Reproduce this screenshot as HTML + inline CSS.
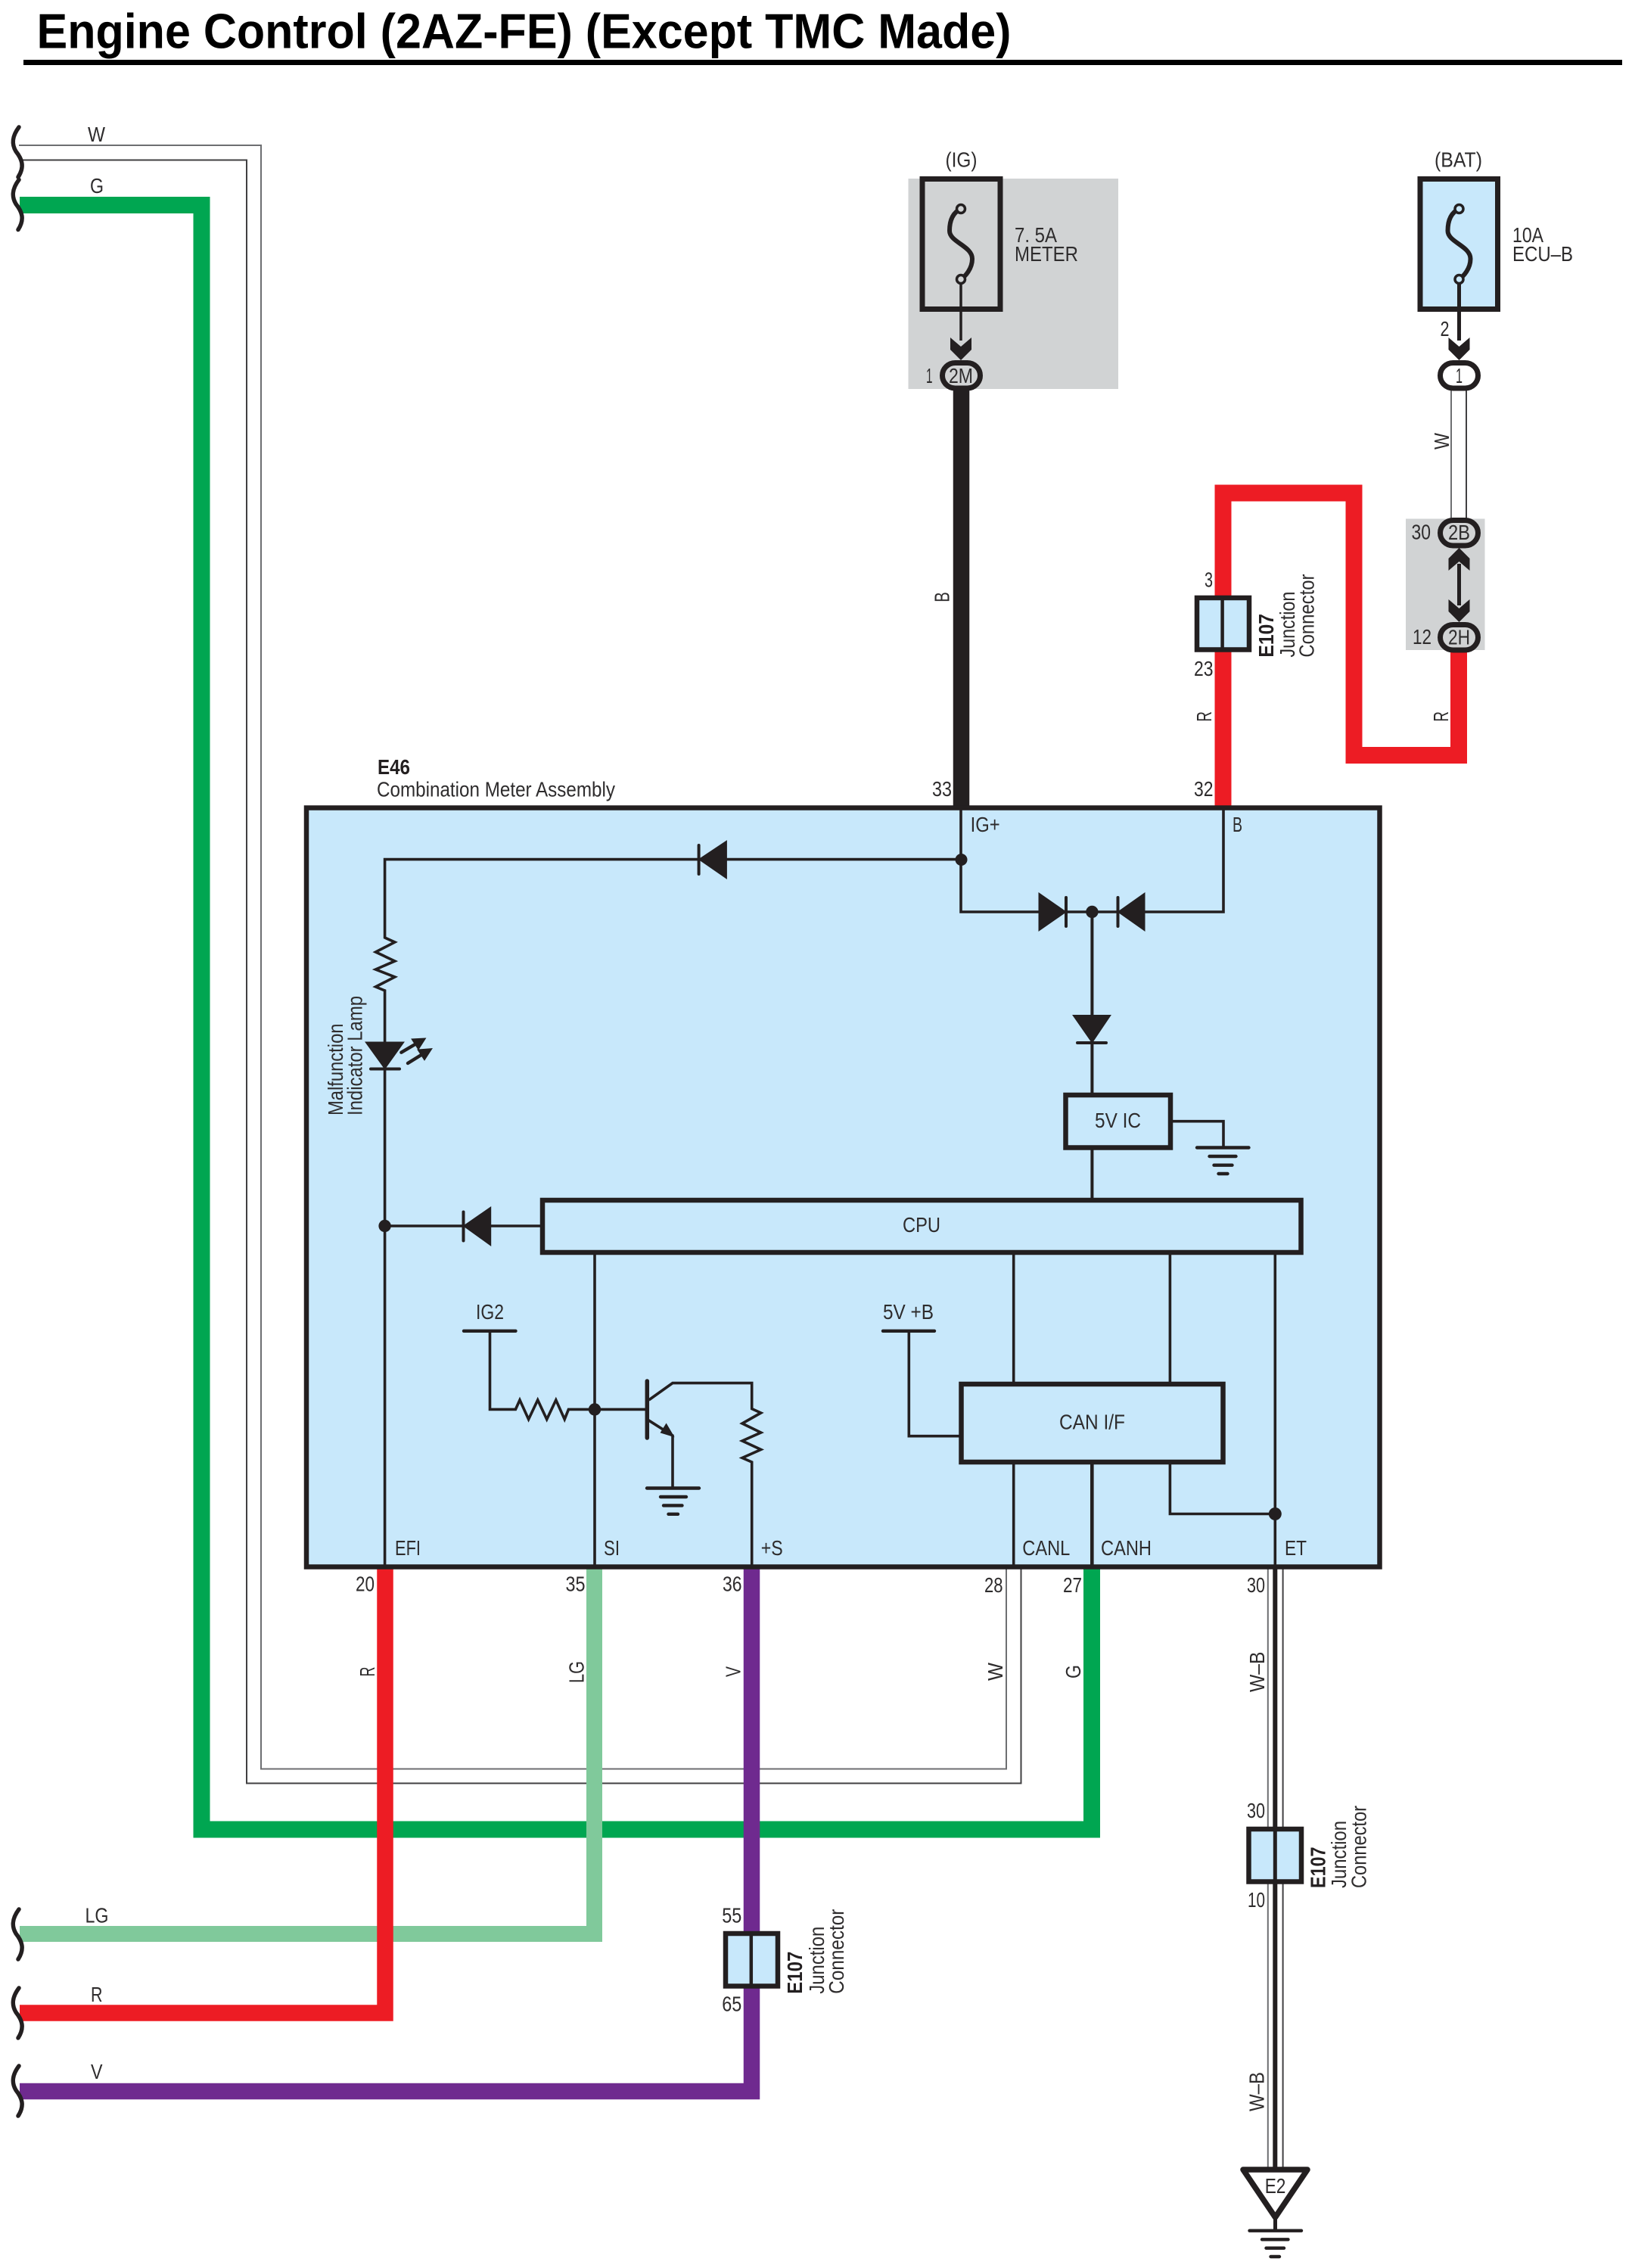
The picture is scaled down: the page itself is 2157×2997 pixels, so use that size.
<!DOCTYPE html>
<html><head><meta charset="utf-8"><title>Engine Control (2AZ-FE) (Except TMC Made)</title>
<style>
html,body{margin:0;padding:0;background:#fff}
svg{display:block}
text{font-family:"Liberation Sans",sans-serif;font-size:27.5px;fill:#2e2c2d}
.b{font-weight:bold;fill:#231f20}
.t{font-weight:bold;font-size:65px;fill:#000}
.k{fill:none;stroke:#231f20;stroke-width:3.6}
.box{fill:#c8e8fb;stroke:#231f20;stroke-width:6.5}
.w{fill:none;stroke-linejoin:miter}
</style></head><body>
<svg xmlns="http://www.w3.org/2000/svg" width="2157" height="2997" viewBox="0 0 2157 2997">
<defs>
<path id="wv" d="M25 0C16 12 15 22 21 32C29 42 33 52 24 66" fill="none" stroke="#231f20" stroke-width="5.5" stroke-linecap="round"/>
<path id="fu" d="M0 0C-13 6-15 19-15 29C-15 44 15 49 15 66C15 79 6 89 0 93" fill="none" stroke="#231f20" stroke-width="6"/>
<path id="ch" d="M-14 0L0 12L14 0V16L0 30L-14 16Z" fill="#231f20"/>
</defs>
<rect width="2157" height="2997" fill="#fff"/>

<text class="t" x="48.5" y="63.5" textLength="1288" lengthAdjust="spacingAndGlyphs">Engine Control (2AZ-FE) (Except TMC Made)</text>
<rect x="31" y="79" width="2113" height="7" fill="#000"/>

<!-- grey zones -->
<rect x="1200.5" y="236" width="277.5" height="278" fill="#d1d3d4"/>
<rect x="1858" y="685.5" width="104.5" height="173.5" fill="#d1d3d4"/>

<!-- W wires -->
<path class="w" stroke="#6d6e71" stroke-width="2" d="M25 192H345V2337.5H1330V2070"/>
<path class="w" stroke="#414042" stroke-width="2" d="M25 211.5H326V2356.5H1349.5V2070"/>
<path class="w" stroke="#6d6e71" stroke-width="2" d="M1918 516V685"/>
<path class="w" stroke="#414042" stroke-width="2" d="M1938 516V685"/>
<path class="w" stroke="#6d6e71" stroke-width="2" d="M1675.8 2070V2864"/>
<path class="w" stroke="#414042" stroke-width="2" d="M1695.6 2070V2864"/>

<!-- colour wires -->
<path class="w" stroke="#00a651" stroke-width="22" d="M26 271H266.5V2417.5H1443V2072"/>
<path class="w" stroke="#80c99b" stroke-width="21" d="M26 2555.5H785.5V2072"/>
<path class="w" stroke="#ed1c24" stroke-width="21.5" d="M26 2660H509V2072"/>
<path class="w" stroke="#6f2a8f" stroke-width="21.5" d="M26 2763.5H993.5V2072"/>
<path class="w" stroke="#ed1c24" stroke-width="22" d="M1616.5 1066V651.5H1789.5V998H1928V860"/>
<path class="w" stroke="#231f20" stroke-width="21.5" d="M1270.5 512V1066"/>
<path class="w" stroke="#231f20" stroke-width="6" d="M1685.3 2070V2866"/>

<!-- waves -->
<use href="#wv" x="0" y="168"/><use href="#wv" x="0" y="237.5"/>
<use href="#wv" x="0" y="2523"/><use href="#wv" x="0" y="2627"/><use href="#wv" x="0" y="2730"/>

<!-- main box -->
<rect class="box" x="405" y="1067.5" width="1418.5" height="1003"/>

<!-- fuses -->
<rect x="1219" y="236.5" width="103" height="172" fill="#d1d3d4" stroke="#231f20" stroke-width="7"/>
<rect x="1877" y="236.5" width="102.5" height="172" fill="#c8e8fb" stroke="#231f20" stroke-width="7"/>
<use href="#fu" x="1270" y="276"/><use href="#fu" x="1928.5" y="276"/>
<circle cx="1270" cy="276" r="5.5" fill="#d1d3d4" stroke="#231f20" stroke-width="3.5"/>
<circle cx="1270" cy="369" r="5.5" fill="#d1d3d4" stroke="#231f20" stroke-width="3.5"/>
<circle cx="1928.5" cy="276" r="5.5" fill="#c8e8fb" stroke="#231f20" stroke-width="3.5"/>
<circle cx="1928.5" cy="369" r="5.5" fill="#c8e8fb" stroke="#231f20" stroke-width="3.5"/>
<path d="M1270 375V450" stroke="#231f20" stroke-width="3.5"/>
<path d="M1928.5 375V450" stroke="#231f20" stroke-width="5"/>
<use href="#ch" x="1270" y="446"/><use href="#ch" x="1928.5" y="446"/>
<path d="M1928.5 745V800" stroke="#231f20" stroke-width="5"/>
<g transform="translate(1928.5,754) scale(1,-1)"><use href="#ch" x="0" y="0"/></g>
<use href="#ch" x="1928.5" y="792"/>

<!-- ovals -->
<rect x="1245.5" y="479.5" width="50" height="33.5" rx="17" fill="#d1d3d4" stroke="#231f20" stroke-width="7"/>
<rect x="1903.5" y="479.5" width="50" height="33.5" rx="17" fill="#fff" stroke="#231f20" stroke-width="7"/>
<rect x="1903.5" y="687.5" width="50" height="33.5" rx="17" fill="#d1d3d4" stroke="#231f20" stroke-width="7"/>
<rect x="1903.5" y="825.5" width="50" height="33.5" rx="17" fill="#d1d3d4" stroke="#231f20" stroke-width="7"/>

<!-- junction connectors -->
<rect class="box" x="1582" y="790" width="69" height="68.5"/>
<path d="M1615.6 790V858" stroke="#231f20" stroke-width="4.5"/>
<rect class="box" x="959" y="2555" width="69" height="69.5"/>
<path d="M992.8 2555V2624" stroke="#231f20" stroke-width="4.5"/>
<rect class="box" x="1650.5" y="2417" width="69.5" height="69.5"/>
<path d="M1685.3 2417V2487" stroke="#231f20" stroke-width="5"/>

<!-- internal wiring -->
<path class="k" d="M1270 1070V1205H1373M1409 1205H1477M1513 1205H1617V1070"/>
<path class="k" d="M1270 1135.6H508.6V1239L521.8 1245L496.5 1258L521.8 1270L496.5 1281L521.8 1291L496.5 1304L508.6 1309V2070"/>
<path class="k" d="M508.6 1620H717"/>
<path class="k" style="stroke-width:4" d="M1443.4 1205V1444M1443.4 1516V1586"/>
<path class="k" d="M1550 1481.7H1617V1516"/>
<path class="k" d="M786 1655V2070"/>
<path class="k" d="M647.5 1759V1862.4H681.4L687 1850L698.6 1875.5L710.7 1850L722.7 1875.5L734.8 1850L746.2 1875.5L751.4 1862.4H854"/>
<path class="k" d="M857.6 1850L889 1827.6H993.7V1861.6L1005.7 1867L981 1881L1005.7 1893L981 1904L1005.7 1915.5L981 1926.5L993.7 1932V2070"/>
<path class="k" d="M857 1876.7L889 1897V1966.5"/>
<path d="M880.6 1882L890 1898L873.7 1893Z" fill="#231f20" stroke="#231f20" stroke-width="1.5"/>
<path d="M855.3 1825V1900" stroke="#231f20" stroke-width="5.5" stroke-linecap="round"/>
<path class="k" d="M1339.7 1655V1826M1546.4 1655V1826M1685.3 1655V2070"/>
<path class="k" d="M1201.3 1759V1897.7H1270"/>
<path class="k" d="M1339.7 1932V2070"/>
<path class="k" style="stroke-width:4.6" d="M1443.3 1932V2070"/>
<path class="k" d="M1546.4 1932V2000.5H1685.3"/>

<!-- diodes -->
<g fill="#231f20" stroke="#231f20" stroke-linecap="round">
<path stroke-width="1" d="M923.6 1135.6L960.4 1111V1161Z"/><path stroke-width="4" d="M923.6 1117V1155"/>
<path stroke-width="1" d="M612.5 1620L648.7 1595V1646Z"/><path stroke-width="4" d="M612.5 1601.5V1639.5"/>
<path stroke-width="1" d="M1409 1205L1373 1180V1230Z"/><path stroke-width="4" d="M1409 1186V1224"/>
<path stroke-width="1" d="M1477.5 1205L1513 1180V1230Z"/><path stroke-width="4" d="M1477.5 1186V1224"/>
<path stroke-width="1" d="M1418 1341.5H1468L1443.4 1378Z"/><path stroke-width="4" d="M1424 1378H1462"/>
<path stroke-width="1" d="M483 1377H534L508.6 1412.5Z"/><path stroke-width="4" d="M490 1412.5H528"/>
<path stroke-width="4.4" fill="none" d="M530.4 1390.7L552 1378M539 1405L560 1392"/>
<path stroke-width="1" d="M562.5 1372L544 1373L553 1387Z"/>
<path stroke-width="1" d="M571 1385.6L552 1387L561 1401Z"/>
</g>

<!-- nodes -->
<circle cx="1270.5" cy="1136" r="8" fill="#231f20"/>
<circle cx="1443.4" cy="1205" r="8.2" fill="#231f20"/>
<circle cx="508.6" cy="1620" r="8.2" fill="#231f20"/>
<circle cx="786" cy="1862.5" r="8.2" fill="#231f20"/>
<circle cx="1685.3" cy="2000.5" r="8.5" fill="#231f20"/>

<!-- inner boxes -->
<rect class="box" x="1408.5" y="1447" width="138.5" height="69.5"/>
<rect class="box" x="717" y="1586" width="1002.5" height="69"/>
<rect class="box" x="1270.5" y="1829" width="346" height="103"/>

<!-- source bars -->
<g stroke="#231f20" stroke-width="4.4" stroke-linecap="round">
<path d="M613 1758.8H681.5M1167 1758.8H1235"/>
<path d="M1582 1516.5H1650.5M1598.5 1528H1633.5M1604.5 1539.7H1628.5M1610.5 1551H1622.5"/>
<path d="M855 1966.5H924M873 1978H907M877 1989.4H901.5M883.5 2000.8H896"/>
<path d="M1651.5 2947.7H1720M1668 2959.3H1702.5M1673.5 2970.7H1697M1679.5 2982H1691"/>
</g>

<!-- ground triangle -->
<path d="M1643 2867H1728L1685.5 2930Z" fill="#fff" stroke="#231f20" stroke-width="7.5" stroke-linejoin="round"/>
<path d="M1685.5 2930V2948" stroke="#231f20" stroke-width="5"/>

<!-- horizontal labels -->
<text x="116" y="187" textLength="23" lengthAdjust="spacingAndGlyphs">W</text>
<text x="119" y="255" textLength="18" lengthAdjust="spacingAndGlyphs">G</text>
<text x="112.5" y="2540.6" textLength="31" lengthAdjust="spacingAndGlyphs">LG</text>
<text x="120" y="2644.8" textLength="15.5" lengthAdjust="spacingAndGlyphs">R</text>
<text x="120" y="2747" textLength="15.5" lengthAdjust="spacingAndGlyphs">V</text>
<text x="1249.5" y="220.5" textLength="42" lengthAdjust="spacingAndGlyphs">(IG)</text>
<text x="1896" y="220.5" textLength="63" lengthAdjust="spacingAndGlyphs">(BAT)</text>
<text x="1341" y="320" textLength="56" lengthAdjust="spacingAndGlyphs">7. 5A</text>
<text x="1341" y="345" textLength="84" lengthAdjust="spacingAndGlyphs">METER</text>
<text x="1999" y="320" textLength="41" lengthAdjust="spacingAndGlyphs">10A</text>
<text x="1999" y="345" textLength="80" lengthAdjust="spacingAndGlyphs">ECU–B</text>
<text x="1254" y="506" textLength="32" lengthAdjust="spacingAndGlyphs">2M</text>
<text x="1224" y="506" textLength="8.5" lengthAdjust="spacingAndGlyphs">1</text>
<text x="1903.5" y="444" textLength="12" lengthAdjust="spacingAndGlyphs">2</text>
<text x="1924" y="506" textLength="9" lengthAdjust="spacingAndGlyphs">1</text>
<text x="1914" y="713" textLength="29" lengthAdjust="spacingAndGlyphs">2B</text>
<text x="1865.5" y="712.5" textLength="25.5" lengthAdjust="spacingAndGlyphs">30</text>
<text x="1914" y="851.4" textLength="29" lengthAdjust="spacingAndGlyphs">2H</text>
<text x="1867" y="851" textLength="25" lengthAdjust="spacingAndGlyphs">12</text>
<text x="1592" y="775.6" textLength="11" lengthAdjust="spacingAndGlyphs">3</text>
<text x="1578" y="893" textLength="25.5" lengthAdjust="spacingAndGlyphs">23</text>
<text x="1578" y="1052" textLength="25.5" lengthAdjust="spacingAndGlyphs">32</text>
<text x="1232" y="1052" textLength="26" lengthAdjust="spacingAndGlyphs">33</text>
<text class="b" x="499" y="1023" textLength="43" lengthAdjust="spacingAndGlyphs">E46</text>
<text x="498" y="1052.4" textLength="315" lengthAdjust="spacingAndGlyphs">Combination Meter Assembly</text>
<text x="1282.6" y="1099" textLength="39" lengthAdjust="spacingAndGlyphs">IG+</text>
<text x="1629" y="1099" textLength="13" lengthAdjust="spacingAndGlyphs">B</text>
<text x="1447" y="1490" textLength="61" lengthAdjust="spacingAndGlyphs">5V IC</text>
<text x="1193" y="1628" textLength="50" lengthAdjust="spacingAndGlyphs">CPU</text>
<text x="629" y="1743" textLength="37" lengthAdjust="spacingAndGlyphs">IG2</text>
<text x="1167" y="1743" textLength="67" lengthAdjust="spacingAndGlyphs">5V +B</text>
<text x="1400" y="1888.6" textLength="87" lengthAdjust="spacingAndGlyphs">CAN I/F</text>
<text x="522" y="2055" textLength="34" lengthAdjust="spacingAndGlyphs">EFI</text>
<text x="798" y="2055" textLength="21" lengthAdjust="spacingAndGlyphs">SI</text>
<text x="1005.7" y="2055" textLength="29" lengthAdjust="spacingAndGlyphs">+S</text>
<text x="1351.3" y="2055" textLength="63" lengthAdjust="spacingAndGlyphs">CANL</text>
<text x="1455" y="2055" textLength="67" lengthAdjust="spacingAndGlyphs">CANH</text>
<text x="1698" y="2055" textLength="29" lengthAdjust="spacingAndGlyphs">ET</text>
<text x="470" y="2102.5" textLength="25" lengthAdjust="spacingAndGlyphs">20</text>
<text x="747.5" y="2102.5" textLength="26" lengthAdjust="spacingAndGlyphs">35</text>
<text x="955" y="2102.5" textLength="25.5" lengthAdjust="spacingAndGlyphs">36</text>
<text x="1301" y="2104" textLength="24.5" lengthAdjust="spacingAndGlyphs">28</text>
<text x="1405" y="2104" textLength="25" lengthAdjust="spacingAndGlyphs">27</text>
<text x="1648" y="2104" textLength="24" lengthAdjust="spacingAndGlyphs">30</text>
<text x="1648" y="2402" textLength="24" lengthAdjust="spacingAndGlyphs">30</text>
<text x="1649" y="2520" textLength="23" lengthAdjust="spacingAndGlyphs">10</text>
<text x="954.3" y="2540.6" textLength="26" lengthAdjust="spacingAndGlyphs">55</text>
<text x="954.3" y="2657.5" textLength="26" lengthAdjust="spacingAndGlyphs">65</text>
<text x="1671.7" y="2898" textLength="27.7" lengthAdjust="spacingAndGlyphs">E2</text>

<!-- rotated labels -->
<text transform="translate(1915,594) rotate(-90)" textLength="22" lengthAdjust="spacingAndGlyphs">W</text>
<text transform="translate(1254.7,795.7) rotate(-90)" textLength="13.5" lengthAdjust="spacingAndGlyphs">B</text>
<text transform="translate(1601,953.6) rotate(-90)" textLength="13.5" lengthAdjust="spacingAndGlyphs">R</text>
<text transform="translate(1914,953.6) rotate(-90)" textLength="13.5" lengthAdjust="spacingAndGlyphs">R</text>
<text class="b" transform="translate(1683,868.6) rotate(-90)" textLength="57.6" lengthAdjust="spacingAndGlyphs">E107</text>
<text transform="translate(1711,868.6) rotate(-90)" textLength="87" lengthAdjust="spacingAndGlyphs">Junction</text>
<text transform="translate(1736.5,868.6) rotate(-90)" textLength="110" lengthAdjust="spacingAndGlyphs">Connector</text>
<text transform="translate(453,1474) rotate(-90)" textLength="121.5" lengthAdjust="spacingAndGlyphs">Malfunction</text>
<text transform="translate(478.7,1474) rotate(-90)" textLength="158" lengthAdjust="spacingAndGlyphs">Indicator Lamp</text>
<text transform="translate(495,2215.5) rotate(-90)" textLength="13" lengthAdjust="spacingAndGlyphs">R</text>
<text transform="translate(771.5,2224) rotate(-90)" textLength="29" lengthAdjust="spacingAndGlyphs">LG</text>
<text transform="translate(978.7,2216) rotate(-90)" textLength="14" lengthAdjust="spacingAndGlyphs">V</text>
<text transform="translate(1325,2221) rotate(-90)" textLength="24" lengthAdjust="spacingAndGlyphs">W</text>
<text transform="translate(1428,2218) rotate(-90)" textLength="18" lengthAdjust="spacingAndGlyphs">G</text>
<text transform="translate(1671,2236) rotate(-90)" textLength="53.5" lengthAdjust="spacingAndGlyphs">W–B</text>
<text class="b" transform="translate(1751.3,2495) rotate(-90)" textLength="54.5" lengthAdjust="spacingAndGlyphs">E107</text>
<text transform="translate(1779,2495) rotate(-90)" textLength="89" lengthAdjust="spacingAndGlyphs">Junction</text>
<text transform="translate(1805.4,2495) rotate(-90)" textLength="109" lengthAdjust="spacingAndGlyphs">Connector</text>
<text transform="translate(1670.7,2790) rotate(-90)" textLength="52" lengthAdjust="spacingAndGlyphs">W–B</text>
<text class="b" transform="translate(1060,2634.7) rotate(-90)" textLength="56" lengthAdjust="spacingAndGlyphs">E107</text>
<text transform="translate(1089,2634.7) rotate(-90)" textLength="89" lengthAdjust="spacingAndGlyphs">Junction</text>
<text transform="translate(1115,2634.7) rotate(-90)" textLength="112" lengthAdjust="spacingAndGlyphs">Connector</text>
</svg>
</body></html>
